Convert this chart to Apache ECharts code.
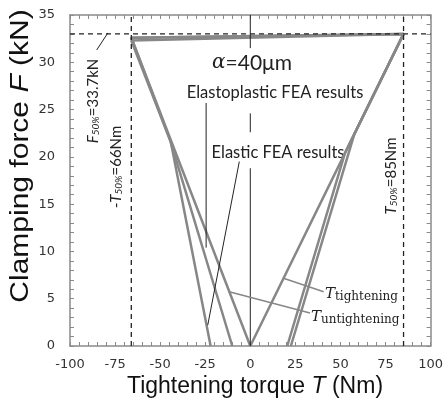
<!DOCTYPE html>
<html>
<head>
<meta charset="utf-8">
<script src="https://cdn.jsdelivr.net/npm/echarts@6/dist/echarts.min.js"></script>
<style>
  html, body { margin: 0; padding: 0; background: #fff; }
  #chart { width: 446px; height: 399px; }
</style>
</head>
<body>
<div id="chart"></div>
<script>
// axis ranges and ticks
const xTicks = [-100, -75, -50, -25, 0, 25, 50, 75, 100];
const yTicks = [0, 5, 10, 15, 20, 25, 30, 35];

// FEA curves (torque T in Nm, clamping force F in kN)
const elasticCurve = [[0, 0], [85, 33], [-66, 32.6], [0, 0]];
const plasticCurveA = [[22.5, 0], [57.7, 22.4], [85, 33], [-66, 32.3], [-44, 21.5], [-22, 0]];
const plasticCurveB = [[20.5, 0], [52.5, 20.4], [85, 33], [-66, 32.6], [-44.5, 21.8], [-10, 0]];

// reference values
const forceRef = 33;
const torqueUntight = -66;
const torqueTight = 85;

// leader lines of the annotations
const leaderF50 = [[-85.2, 31.3], [-79, 33.1]];
const leaderPlastic = [[-24.5, 25.7], [-24.5, 10.4]];
const leaderElastic = [[-6.1, 19.5], [-23.6, 2.2]];
const zeroLine1 = [[0, 35], [0, 31.5]];
const zeroLine2 = [[0, 24.6], [0, 22.6]];
const zeroLine3 = [[0, 18.8], [0, 0]];
const leaderTight = [[18.4, 7.16], [40.7, 5.74]];
const leaderUntight = [[-11.7, 5.74], [33.1, 3.5]];

let myChart = echarts.init(document.getElementById('chart'));

const gray = '#878787';
const dark = '#222';

function curve(data) {
  return {
    type: 'line', data: data, symbol: 'none', silent: true,
    lineStyle: { color: gray, width: 2.5 }
  };
}
function thin(data, color, width, type) {
  return {
    type: 'line', data: data, symbol: 'none', silent: true, z: 3,
    lineStyle: { color: color, width: width, type: type || 'solid' }
  };
}

const axisBase = {
  type: 'value',
  axisLine: { show: true, onZero: false, lineStyle: { color: '#8a8a8a', width: 1.5 } },
  axisTick: { show: true, inside: true, length: 4, lineStyle: { color: '#8a8a8a' } },
  minorTick: { show: true, splitNumber: 5, length: 4, lineStyle: { color: '#8a8a8a' } },
  splitLine: { show: false },
};

// 斜体字母 + 下标
const subRich = {
  i: { fontFamily: 'Lato', fontStyle: 'italic', fontSize: 15, fill: dark },
  s: { fontFamily: 'Lato', fontStyle: 'italic', fontSize: 10, fill: dark, padding: [6, 0, 0, 0] },
  n: { fontFamily: 'Lato', fontSize: 15, fill: dark },
};
const tRich = {
  i: { fontFamily: 'DejaVu Serif', fontStyle: 'italic', fontSize: 15, fill: dark },
  s: { fontFamily: 'DejaVu Serif', fontSize: 12, fill: dark, padding: [6, 0, 0, 0] },
};

myChart.setOption({
  animation: false,
  grid: { left: 70, right: 14, top: 15, bottom: 53 },
  xAxis: [
    Object.assign({}, axisBase, {
      position: 'bottom',
      min: xTicks[0], max: xTicks[xTicks.length - 1], interval: 25,
      axisLabel: { margin: 12, color: '#333', fontFamily: 'DejaVu Sans', fontSize: 13 },
    }),
    Object.assign({}, axisBase, {
      position: 'top',
      min: xTicks[0], max: xTicks[xTicks.length - 1], interval: 25,
      axisLabel: { show: false },
    }),
  ],
  yAxis: [
    Object.assign({}, axisBase, {
      position: 'left',
      min: yTicks[0], max: yTicks[yTicks.length - 1], interval: 5,
      axisLabel: { margin: 15, color: '#333', fontFamily: 'DejaVu Sans', fontSize: 13 },
    }),
    Object.assign({}, axisBase, {
      position: 'right',
      min: yTicks[0], max: yTicks[yTicks.length - 1], interval: 5,
      axisLabel: { show: false },
    }),
  ],
  series: [
    curve(elasticCurve),
    curve(plasticCurveA),
    curve(plasticCurveB),
    // dashed reference lines
    thin([[xTicks[0], forceRef], [xTicks[xTicks.length - 1], forceRef]], dark, 1.3, [5, 4]),
    thin([[torqueUntight, 0], [torqueUntight, 35]], dark, 1.3, [5, 4]),
    thin([[torqueTight, 0], [torqueTight, 35]], dark, 1.3, [5, 4]),
    // leaders
    thin(leaderF50, dark, 1),
    thin(leaderPlastic, dark, 1),
    thin(leaderElastic, dark, 1),
    thin(zeroLine1, dark, 1),
    thin(zeroLine2, dark, 1),
    thin(zeroLine3, dark, 1),
    thin(leaderTight, gray, 1.5),
    thin(leaderUntight, gray, 1.5),
  ],
  graphic: [
    {
      type: 'text', x: 255, y: 387,
      style: {
        text: '{n|Tightening torque }{i|T}{n| (Nm)}',
        align: 'center', verticalAlign: 'middle',
        rich: {
          n: { fontFamily: 'Liberation Sans', fontSize: 23, fill: '#111' },
          i: { fontFamily: 'Liberation Sans', fontSize: 23, fontStyle: 'italic', fill: '#111' },
        },
      },
    },
    {
      type: 'text', x: 21, y: 156, rotation: Math.PI / 2, scaleX: 1.2,
      style: {
        text: '{n|Clamping force }{i|F}{n| (kN)}',
        align: 'center', verticalAlign: 'middle',
        rich: {
          n: { fontFamily: 'Liberation Sans', fontSize: 25, fill: '#111' },
          i: { fontFamily: 'Liberation Sans', fontSize: 25, fontStyle: 'italic', fill: '#111' },
        },
      },
    },
    {
      type: 'text', x: 252, y: 63,
      style: {
        text: '{i|α}{n|=40μm}', align: 'center', verticalAlign: 'middle',
        rich: {
          i: { fontFamily: 'DejaVu Serif', fontStyle: 'italic', fontSize: 20, fill: dark },
          n: { fontFamily: 'Lato', fontSize: 21, fill: dark },
        },
      },
    },
    {
      type: 'text', x: 275, y: 93,
      style: { text: 'Elastoplastic FEA results', align: 'center', verticalAlign: 'middle',
        fontFamily: 'Lato', fontSize: 16.5, fill: dark },
    },
    {
      type: 'text', x: 278, y: 153,
      style: { text: 'Elastic FEA results', align: 'center', verticalAlign: 'middle',
        fontFamily: 'Lato', fontSize: 16.5, fill: dark },
    },
    {
      type: 'text', x: 93, y: 101, rotation: Math.PI / 2,
      style: { text: '{i|F}{s|50%}{n|=33.7kN}', align: 'center', verticalAlign: 'middle', rich: subRich },
    },
    {
      type: 'text', x: 116, y: 167, rotation: Math.PI / 2,
      style: { text: '{n|-}{i|T}{s|50%}{n|=66Nm}', align: 'center', verticalAlign: 'middle', rich: subRich },
    },
    {
      type: 'text', x: 391, y: 176, rotation: Math.PI / 2,
      style: { text: '{i|T}{s|50%}{n|=85Nm}', align: 'center', verticalAlign: 'middle', rich: subRich },
    },
    {
      type: 'text', x: 325, y: 294,
      style: { text: '{i|T}{s|tightening}', align: 'left', verticalAlign: 'middle', rich: tRich },
    },
    {
      type: 'text', x: 311, y: 317,
      style: { text: '{i|T}{s|untightening}', align: 'left', verticalAlign: 'middle', rich: tRich },
    },
  ],
});
</script>
</body>
</html>
